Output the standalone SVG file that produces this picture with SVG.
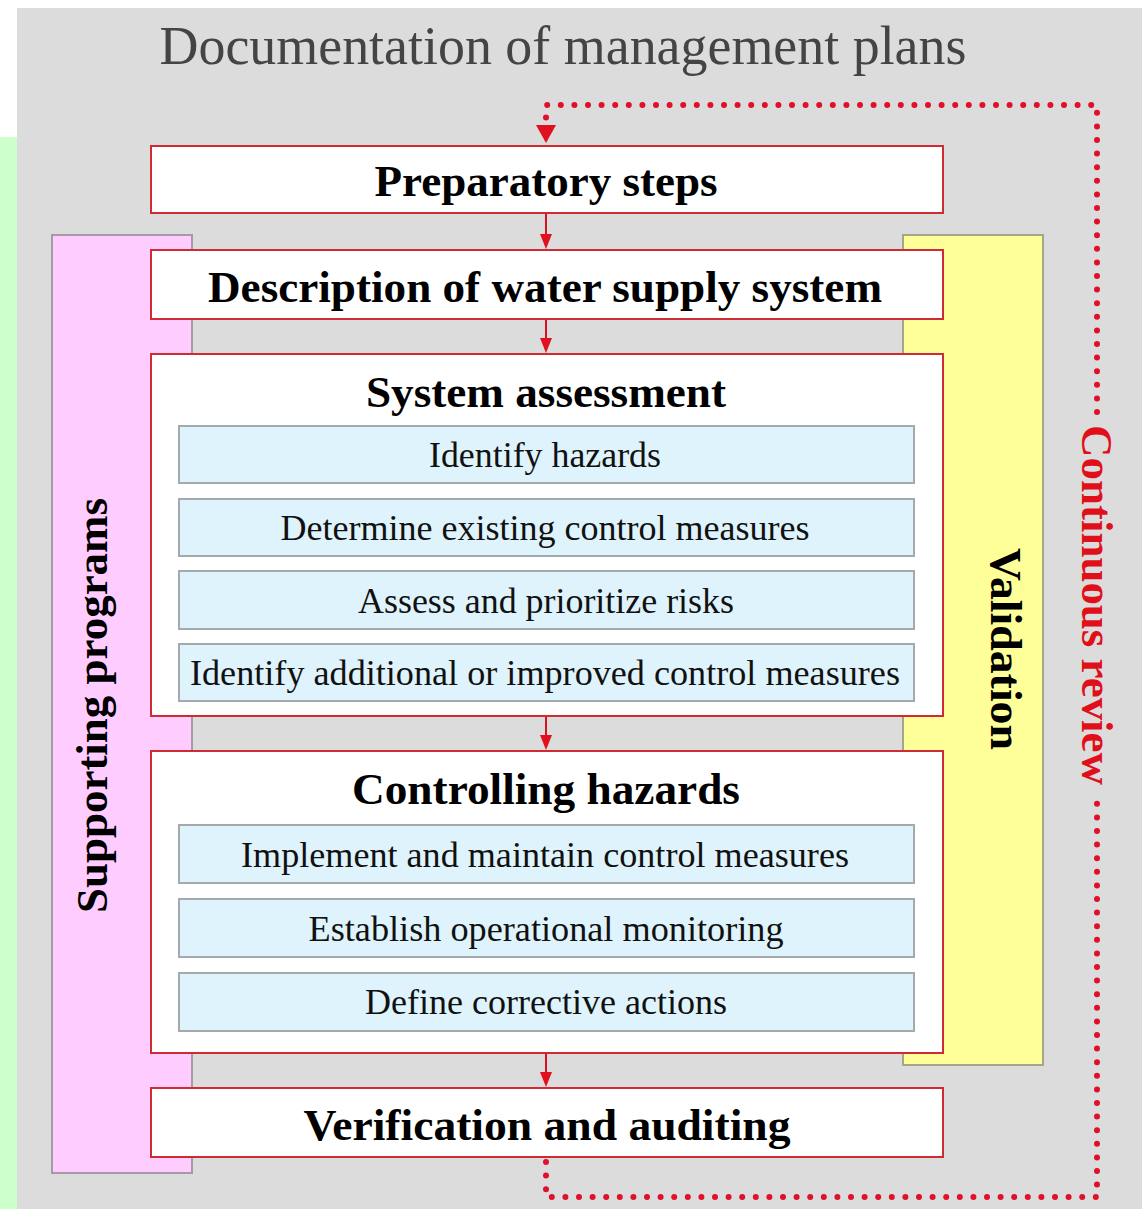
<svg xmlns="http://www.w3.org/2000/svg" width="1142" height="1209" viewBox="0 0 1142 1209">
<style>
.main{fill:#ffffff;stroke:#d02a35;stroke-width:2}
.sub{fill:#dff3fc;stroke:#a3aaad;stroke-width:2}
.hd{font-family:"Liberation Serif","Times New Roman",serif;font-weight:bold;font-size:44px;fill:#000;text-anchor:middle}
.st{font-family:"Liberation Serif","Times New Roman",serif;font-size:35px;fill:#111;text-anchor:middle}
.arrow{stroke:#d8121f;stroke-width:2;fill:none}
.head{fill:#e0101f}
.dots{stroke:#e0102a;stroke-width:6;stroke-linecap:round;stroke-dasharray:0 13.6;fill:none}
</style>
<rect x="0" y="0" width="1142" height="1209" fill="#ffffff"/>
<rect x="17" y="8" width="1125" height="1201" fill="#dcdcdc"/>
<rect x="0" y="137" width="17" height="1072" fill="#ccffcc"/>
<text id="title" x="563" y="64" font-family="Liberation Serif, Times New Roman, serif" font-size="54" fill="#444444" text-anchor="middle" textLength="807" lengthAdjust="spacingAndGlyphs">Documentation of management plans</text>

<g id="supporting">
<rect x="52" y="235" width="140" height="938" fill="#ffccff" stroke="#a59aa5" stroke-width="2"/>
<text class="hd" transform="translate(107 705.5) rotate(-90)" textLength="415" lengthAdjust="spacingAndGlyphs">Supporting programs</text>
</g>
<g id="validation">
<rect x="903" y="235" width="140" height="830" fill="#ffff99" stroke="#a5a58a" stroke-width="2"/>
<text class="hd" transform="translate(991 649) rotate(90)" textLength="202" lengthAdjust="spacingAndGlyphs">Validation</text>
</g>

<g id="connectors">
<path class="dots" d="M546,1162 L546,1197 L1097,1197 L1097,800"/>
<path class="dots" d="M1097,412 L1097,105 L546,105 L546,120"/>
<path class="head" d="M536,125 L556,125 L546,143 Z"/>
<line class="arrow" x1="546" y1="214" x2="546" y2="236"/>
<path class="head" d="M540,234 L552,234 L546,249 Z"/>
<line class="arrow" x1="546" y1="320" x2="546" y2="340"/>
<path class="head" d="M540,338 L552,338 L546,353 Z"/>
<line class="arrow" x1="546" y1="717" x2="546" y2="737"/>
<path class="head" d="M540,735 L552,735 L546,750 Z"/>
<line class="arrow" x1="546" y1="1054" x2="546" y2="1074"/>
<path class="head" d="M540,1072 L552,1072 L546,1087 Z"/>
</g>
<text id="continuous" transform="translate(1082 605) rotate(90)" font-family="Liberation Serif, Times New Roman, serif" font-weight="bold" font-size="44" fill="#e0101a" text-anchor="middle" textLength="360" lengthAdjust="spacingAndGlyphs">Continuous review</text>

<g id="preparatory">
<rect class="main" x="151" y="146" width="792" height="67"/>
<text class="hd" x="546" y="196" textLength="343" lengthAdjust="spacingAndGlyphs">Preparatory steps</text>
</g>
<g id="description">
<rect class="main" x="151" y="250" width="792" height="69"/>
<text class="hd" x="545" y="302" textLength="674" lengthAdjust="spacingAndGlyphs">Description of water supply system</text>
</g>
<g id="assessment">
<rect class="main" x="151" y="354" width="792" height="362"/>
<text class="hd" x="546" y="407" textLength="360" lengthAdjust="spacingAndGlyphs">System assessment</text>
<g id="identify-hazards">
<rect class="sub" x="179" y="426" width="735" height="57"/>
<text class="st" x="545" y="467" textLength="232" lengthAdjust="spacingAndGlyphs">Identify hazards</text>
</g>
<g id="determine">
<rect class="sub" x="179" y="499" width="735" height="57"/>
<text class="st" x="545" y="540" textLength="529" lengthAdjust="spacingAndGlyphs">Determine existing control measures</text>
</g>
<g id="assess">
<rect class="sub" x="179" y="571" width="735" height="58"/>
<text class="st" x="546" y="613" textLength="376" lengthAdjust="spacingAndGlyphs">Assess and prioritize risks</text>
</g>
<g id="identify-additional">
<rect class="sub" x="179" y="644" width="735" height="57"/>
<text class="st" x="545" y="685" textLength="710" lengthAdjust="spacingAndGlyphs">Identify additional or improved control measures</text>
</g>
</g>
<g id="controlling">
<rect class="main" x="151" y="751" width="792" height="302"/>
<text class="hd" x="546" y="804" textLength="388" lengthAdjust="spacingAndGlyphs">Controlling hazards</text>
<g id="implement">
<rect class="sub" x="179" y="825" width="735" height="58"/>
<text class="st" x="545" y="867" textLength="608" lengthAdjust="spacingAndGlyphs">Implement and maintain control measures</text>
</g>
<g id="establish">
<rect class="sub" x="179" y="899" width="735" height="58"/>
<text class="st" x="546" y="941" textLength="475" lengthAdjust="spacingAndGlyphs">Establish operational monitoring</text>
</g>
<g id="define">
<rect class="sub" x="179" y="973" width="735" height="58"/>
<text class="st" x="546" y="1014" textLength="362" lengthAdjust="spacingAndGlyphs">Define corrective actions</text>
</g>
</g>
<g id="verification">
<rect class="main" x="151" y="1088" width="792" height="69"/>
<text class="hd" x="547" y="1140" textLength="487" lengthAdjust="spacingAndGlyphs">Verification and auditing</text>
</g>
</svg>
